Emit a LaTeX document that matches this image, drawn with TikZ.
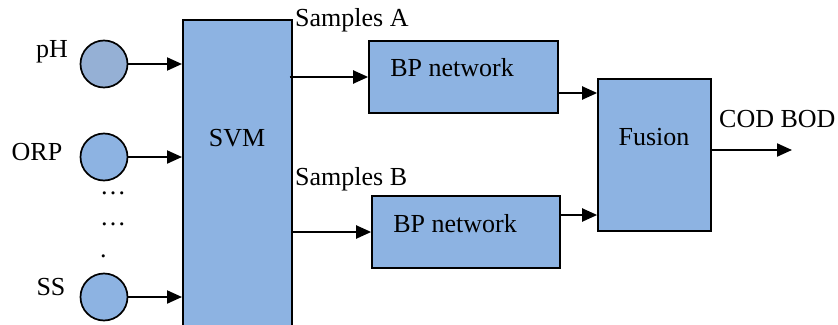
\documentclass[tikz,border=0pt]{standalone}
\usepackage{fontspec}
\setmainfont{Liberation Serif}
\usepackage{tikz}
\usetikzlibrary{positioning,arrows.meta}
\definecolor{boxblue}{HTML}{8DB3E2}
\definecolor{phblue}{HTML}{95B0D5}

\begin{document}
\begin{tikzpicture}[x=1pt, y=-1pt,
        every node/.style = {font=\fontsize{26}{30}\selectfont, inner sep=0pt},
        sensor/.style = {circle, draw, line width=1.7pt, fill=boxblue, minimum size=47pt},
        block/.style = {rectangle, draw, line width=1.7pt, fill=boxblue},
        arrow/.style = {line width=2.1pt, -{Triangle[length=15pt,width=13pt]}}
        ]
        \useasboundingbox (0,0) rectangle (838,324);
        % inputs
        \node[sensor, fill=phblue] (ph) at (104,64) {};
        \node[sensor] (orp) at (104,157) {};
        \node[sensor] (ss) at (104,297) {};
        \node[anchor=base] (phtext) at (52,57) {pH};
        \node[anchor=base] (orptext) at (37,160) {ORP};
        \node[anchor=base] (sstext) at (51,295) {SS};
        \node[anchor=base west] (dots1) at (100,194) {\ldots};
        \node[anchor=base west] (dots2) at (100,225) {\ldots};
        \node[anchor=base west] (dots3) at (100,257) {.};
        % svm
        \node[block, anchor=north west, minimum width=109pt, minimum height=330pt] (svm) at (182,19) {};
        \node[anchor=base] (svmtext) at (237,146) {SVM};
        % bp networks
        \node[block, minimum width=189pt, minimum height=72pt] (bpa) at (463.5,77) {};
        \node[anchor=base] (bpatext) at (452,76) {BP network};
        \node[block, minimum width=188pt, minimum height=72pt] (bpb) at (466,232) {};
        \node[anchor=base] (bpbtext) at (455,232) {BP network};
        \node[anchor=base west] (sa) at (295,27) {Samples A};
        \node[anchor=base west] (sb) at (295,185) {Samples B};
        % fusion
        \node[block, minimum width=113pt, minimum height=152pt] (fusion) at (654.5,155) {};
        \node[anchor=base] (fusiontext) at (654,145) {Fusion};
        \node[anchor=base west] (out) at (719,127) {COD BOD};
        \coordinate (outend) at (792,150);
        \draw[arrow] (ph) -- (ph -| svm.west);
        \draw[arrow] (orp) -- (orp -| svm.west);
        \draw[arrow] (ss) -- (ss -| svm.west);
        \draw[arrow] ([xshift=-3pt]bpa.west -| svm.east) -- (bpa.west);
        \draw[arrow] (bpb.west -| svm.east) -- (bpb.west);
        \draw[arrow] ([yshift=-16pt]bpa.east) -- ([yshift=-16pt]bpa.east -| fusion.west);
        \draw[arrow] ([yshift=17pt]bpb.east) -- ([yshift=17pt]bpb.east -| fusion.west);
        \draw[arrow] (fusion.east |- outend) -- (outend);
\end{tikzpicture}
\end{document}
